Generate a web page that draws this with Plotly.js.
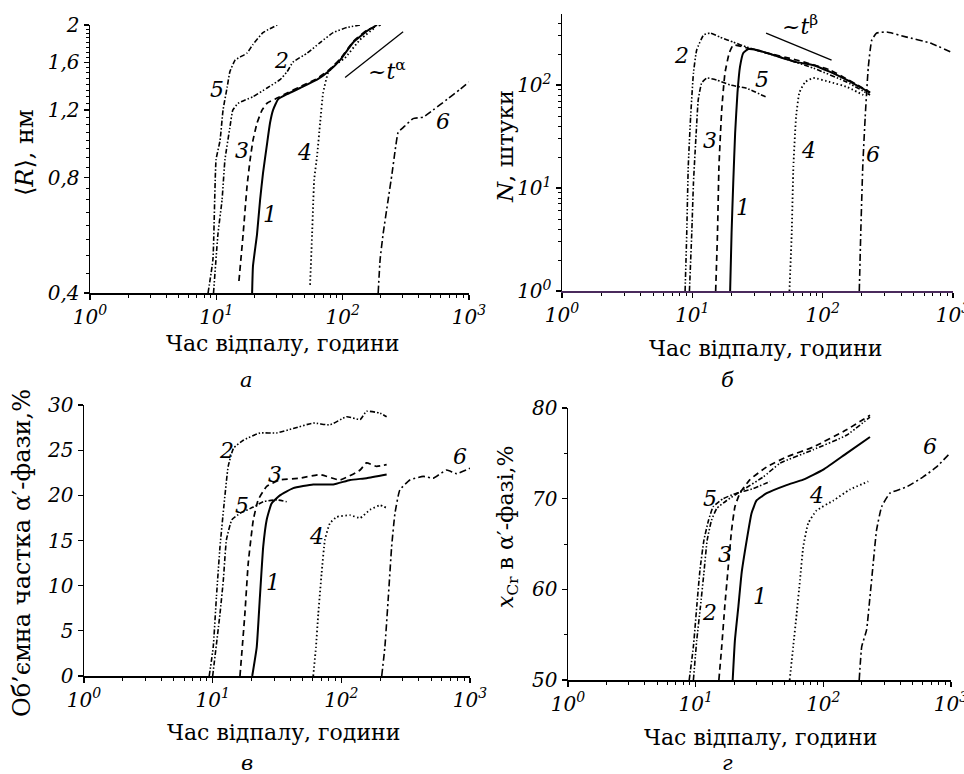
<!DOCTYPE html>
<html><head><meta charset="utf-8">
<script src="https://cdn.plot.ly/plotly-3.0.1.min.js"></script>
<style>html,body{margin:0;padding:0;background:#fff}</style>
</head><body><div id="chart" style="width:964px;height:774px"></div>
<script>
// ---------- data: panel а  (<R>, nm) ----------
const tA1 = [19.2,19.5,21.0,22.2,23.4,25.2,26.6,28.1,30.8,36.3,46,62.7,76.6,95.3,121,156,187];
const rA1 = [0.40,0.47,0.57,0.70,0.82,0.98,1.11,1.20,1.28,1.32,1.37,1.44,1.51,1.62,1.80,1.93,2.0];
const tA2 = [9.5,10.3,11.1,11.7,12.8,13.5,14.9,19.5,25.2,31.9,36.3,40.4,52.5,66.3,84,108,137];
const rA2 = [0.40,0.57,0.70,0.89,1.08,1.20,1.25,1.30,1.37,1.44,1.51,1.60,1.69,1.80,1.91,1.97,2.0];
const tA3 = [15.1,16.3,17.5,18.5,19.5,21.0,23.0,25.2,30.3,36.3,46,62.7,76.6,95.3,121,156,200];
const rA3 = [0.43,0.57,0.76,0.89,1.00,1.11,1.20,1.25,1.29,1.33,1.38,1.45,1.52,1.63,1.81,1.94,2.0];
const tA4 = [55.2,57.3,58.3,59.5,62.7,66.3,70,76.6,84,104,137,180];
const rA4 = [0.42,0.57,0.67,0.79,0.91,1.11,1.33,1.50,1.56,1.64,1.83,1.97];
const tA5 = [8.6,9.4,9.95,10.7,11.3,12.2,12.8,14.1,17.5,19.5,23.4,30.3];
const rA5 = [0.40,0.49,0.89,1.00,1.20,1.38,1.51,1.62,1.69,1.78,1.91,2.0];
const tA6 = [191,198,209,229,246,260,275,301,361,433,520,671,851,1000];
const rA6 = [0.40,0.49,0.57,0.70,0.82,0.94,1.05,1.08,1.14,1.15,1.20,1.28,1.36,1.42];
const alphaT = [104.5,301];
const alphaR = [1.46,1.92];

// ---------- data: panel б  (N) ----------
const tB1 = [19.5,20.0,20.6,21.3,22.2,23.2,24.6,26.9,31.2,41.8,63,85,114,153,231];
const nB1 = [1,3.66,11.2,34,84,150,205,224,219,196,167,156,134,112,84];
const tB2 = [8.8,9.06,9.3,9.7,10.2,10.8,12.2,13.7,16.3,20.6,26.1,47,85,153,231];
const nB2 = [1,3.66,16,49,131,219,306,320,292,261,234,187,146,107,80];
const tB3 = [15.1,15.6,16.0,16.8,17.8,19.2,20.6,24.6,35,63,114,231];
const nB3 = [1,3.66,16,57,131,205,245,234,209,175,140,85];
const tB4 = [55.6,57.9,59.6,62.5,66.2,73.3,85,114,153,205];
const nB4 = [1,3.66,16,49,84,107,117,107,96,80];
const tB5 = [9.5,9.9,10.2,10.7,11.1,11.8,12.9,15.4,19.5,26.1,37.2];
const nB5 = [1,3.66,11.2,34,72,105,117,112,100,93,76];
const tB6 = [191,196,203,212,224,238,260,311,442,667,1000];
const nB6 = [1,3.66,16,49,150,273,320,327,292,256,205];
const betaT = [36.8,117];
const betaN = [320,175];

// ---------- data: panel в  (volume fraction, %) ----------
const tC1 = [20.3,22.0,23.3,24.7,26.3,28.7,33.3,42.3,60.5,86.5,117,157,225];
const vC1 = [0,3.2,8.8,14.3,17.3,19.1,20.0,20.8,21.2,21.2,21.7,21.9,22.3];
const tC2 = [9.4,10.1,10.7,11.4,12.2,13.2,14.5,17.3,23.3,31.4,42.3,60.5,81.5,110,140,157,200,225];
const vC2 = [0,3.2,8.8,14.3,18.7,23.2,25.2,26.1,26.9,26.9,27.4,28.0,27.8,28.7,28.4,29.3,29.1,28.7];
const tC3 = [16.3,17.8,18.9,20.7,22.6,26.3,33.3,47.7,68.2,97.5,140,157,188,225];
const vC3 = [0,6.9,12.5,17.3,19.5,21.0,21.7,21.9,22.3,21.7,22.8,23.6,23.2,23.4];
const tC4 = [60.5,63.5,66.2,70.3,74.6,81.5,91.9,117,140,167,200,225];
const vC4 = [0,3.2,6.9,11.4,15.1,16.9,17.6,17.8,17.5,18.4,18.9,18.6];
const tC5 = [10.0,11.4,12.1,12.8,14.1,16.3,20.7,24.7,31.4,37.6];
const vC5 = [0,6.9,10.6,15.1,17.3,18.0,18.7,19.3,19.5,19.3];
const tC6 = [206,218,232,246,261,285,341,433,518,658,787,1000];
const vC6 = [0,3.2,8.8,14.3,18.0,20.6,21.7,22.1,21.9,22.8,22.4,23.0];

// ---------- data: panel г  (x_Cr in α'-phase, %) ----------
const tD1 = [19.5,20.3,21.6,22.9,25.1,27.4,30.0,36.0,51.5,69.6,100,152,232];
const xD1 = [50,54.4,58.1,61.8,65.4,68.4,69.8,70.6,71.5,72.1,73.2,75.0,76.8];
const tD2 = [9.6,10.2,10.9,11.6,12.3,13.3,14.6,17.5,23.6,33.9,45.7,83.4,152,232];
const xD2 = [50,54.4,58.1,61.8,65.4,67.6,68.9,69.8,71.0,72.4,73.9,75.4,77.0,79.0];
const tD3 = [15.2,16.0,16.9,18.0,19.1,20.3,22.2,26.6,36.0,51.5,83.4,152,232];
const xD3 = [50,53.7,58.1,62.5,66.5,69.1,70.6,72.1,73.5,74.6,75.7,77.6,79.2];
const tD4 = [54.5,58.1,61.8,65.6,69.6,76.2,88.6,120,161,225];
const xD4 = [50,53.7,57.3,61.0,64.7,67.3,68.7,69.8,71.0,71.9];
const tD5 = [8.9,9.6,10.2,10.8,11.6,12.6,13.7,16.4,20.9,28.2,38.2];
const xD5 = [50,53.7,58.1,62.1,65.4,67.6,69.1,70.0,70.6,71.1,71.9];
const tD6 = [191,200,218,232,246,261,286,332,449,605,771,980];
const xD6 = [50,53.7,55.5,59.2,62.9,66.5,69.1,70.6,71.3,72.4,73.5,75.0];

// ---------- tick labels ----------
const xTickVals = [1,10,100,1000];
const xTickText = ['10<sup>0</sup>','10<sup>1</sup>','10<sup>2</sup>','10<sup>3</sup>'];
const aTickVals = [0.4,0.8,1.2,1.6,2];
const aTickText = ['0,4','0,8','1,2','1,6','2'];
const bTickVals = [1,10,100];
const bTickText = ['10<sup>0</sup>','10<sup>1</sup>','10<sup>2</sup>'];
const cTickVals = [0,5,10,15,20,25,30];
const dTickVals = [50,60,70,80];

// curve labels: [panel, label, t, value]
const curveLabels = [
  ['a','5',10.1,1.36],['a','2',33,1.62],['a','3',16,0.94],['a','4',50,0.93],['a','1',26.6,0.64],['a','6',624,1.12],
  ['b','2',8.3,194],['b','5',34,112],['b','3',13.7,29],['b','1',24.6,6.5],['b','4',78,23],['b','6',245,21],
  ['c','2',12.8,25.0],['c','3',30.5,22.3],['c','5',16.8,18.9],['c','4',64.3,15.4],['c','1',29.6,10.3],['c','6',834,24.3],
  ['d','5',12.9,70.0],['d','3',17,63.8],['d','2',12.9,57.4],['d','1',31.9,59.2],['d','4',88.6,70.4],['d','6',684,75.7]
];

// ---------- styling ----------
const FONT = 'DejaVu Serif, Liberation Serif, serif';
const dashes = {1:'solid', 2:'5px,2px,1.5px,2px,1.5px,2px', 3:'6px,4px', 4:'1.5px,2.5px', 5:'5px,2px,1.5px,2px', 6:'7px,3px,2px,3px'};
const widths = {1:2, 2:1.6, 3:1.7, 4:1.8, 5:1.6, 6:1.6};
const axMap = {a:['x','y'], b:['x2','y2'], c:['x3','y3'], d:['x4','y4']};

const traces = [];
function addCurve(panel, k, t, v){
  traces.push({x:t, y:v, xaxis:axMap[panel][0], yaxis:axMap[panel][1], mode:'lines',
    line:{color:'#000', width:widths[k], dash:dashes[k], shape:'spline', smoothing:0.4},
    showlegend:false, hoverinfo:'skip'});
}
[[tA1,rA1],[tA2,rA2],[tA3,rA3],[tA4,rA4],[tA5,rA5],[tA6,rA6]].forEach((d,i)=>addCurve('a',i+1,d[0],d[1]));
[[tB1,nB1],[tB2,nB2],[tB3,nB3],[tB4,nB4],[tB5,nB5],[tB6,nB6]].forEach((d,i)=>addCurve('b',i+1,d[0],d[1]));
[[tC1,vC1],[tC2,vC2],[tC3,vC3],[tC4,vC4],[tC5,vC5],[tC6,vC6]].forEach((d,i)=>addCurve('c',i+1,d[0],d[1]));
[[tD1,xD1],[tD2,xD2],[tD3,xD3],[tD4,xD4],[tD5,xD5],[tD6,xD6]].forEach((d,i)=>addCurve('d',i+1,d[0],d[1]));
traces.push({x:alphaT, y:alphaR, xaxis:'x', yaxis:'y', mode:'lines', line:{color:'#000',width:1.3}, showlegend:false, hoverinfo:'skip'});
traces.push({x:betaT, y:betaN, xaxis:'x2', yaxis:'y2', mode:'lines', line:{color:'#000',width:1.3}, showlegend:false, hoverinfo:'skip'});

const minorLog = [];
[1,10,100].forEach(d=>{for(let m=2;m<=9;m++) minorLog.push(m*d);});
const minorA = [];
for(let v=0.45; v<2; v+=0.05){ const r=Math.round(v*100)/100; if(aTickVals.indexOf(r)<0) minorA.push(r); }
const minorB = [];
[1,10,100].forEach(d=>{for(let m=2;m<=9;m++) if(m*d<500) minorB.push(m*d);});

const tickfont = {family:FONT, size:20, color:'#000'};
function it(arr){ return arr.map(s=>'<i>'+s+'</i>'); }
function baseAx(extra){
  return Object.assign({showline:true, linecolor:'#000', linewidth:1.5, showgrid:false, zeroline:false,
    ticks:'outside', ticklen:5, tickwidth:1.2, tickcolor:'#000', tickfont:tickfont, fixedrange:true,
    ticklabeloverflow:'allow'}, extra);
}
function xAx(domain, anchor){
  return baseAx({type:'log', domain:domain, anchor:anchor, range:[0,3], tickmode:'array',
    tickvals:xTickVals, ticktext:it(xTickText),
    minor:{tickmode:'array', tickvals:minorLog, ticks:'outside', ticklen:3, tickcolor:'#000', tickwidth:1, showgrid:false}});
}

const layout = {
  width:964, height:774, margin:{l:0,r:0,t:0,b:0}, paper_bgcolor:'#fff', plot_bgcolor:'rgba(0,0,0,0)',
  showlegend:false, hovermode:false,
  xaxis: xAx([90/964, 469/964], 'y'),
  yaxis: baseAx({type:'log', domain:[1-293/774, 1-25/774], anchor:'x', range:[Math.log10(0.4), Math.log10(2)],
    tickmode:'array', tickvals:aTickVals, ticktext:it(aTickText),
    minor:{tickmode:'array', tickvals:minorA, ticks:'outside', ticklen:3, tickcolor:'#000', tickwidth:1, showgrid:false}}),
  xaxis2: Object.assign(xAx([562/964, 953/964], 'y2'), {linecolor:'#4a2a5c'}),
  yaxis2: baseAx({type:'log', domain:[1-291/774, 1-14/774], anchor:'x2', range:[0, 2.69],
    tickmode:'array', tickvals:bTickVals, ticktext:it(bTickText),
    minor:{tickmode:'array', tickvals:minorB, ticks:'outside', ticklen:3, tickcolor:'#000', tickwidth:1, showgrid:false}}),
  xaxis3: xAx([84/964, 470/964], 'y3'),
  yaxis3: baseAx({domain:[1-676/774, 1-405/774], anchor:'x3', range:[0,30], tickmode:'array',
    tickvals:cTickVals, ticktext:it(cTickVals.map(String))}),
  xaxis4: xAx([568/964, 951/964], 'y4'),
  yaxis4: baseAx({domain:[1-680/774, 1-408/774], anchor:'x4', range:[50,80], tickmode:'array',
    tickvals:dTickVals, ticktext:it(dTickVals.map(String)),
    minor:{tickmode:'array', tickvals:[55,65,75], ticks:'outside', ticklen:3, tickcolor:'#000', tickwidth:1, showgrid:false}}),
  annotations: []
};

function tf(size){ return {family:FONT, size:size, color:'#000'}; }
function paperText(text, px, py, angle, font){
  layout.annotations.push({text:text, x:px/964, y:1-py/774, xref:'paper', yref:'paper', showarrow:false,
    xanchor:'center', yanchor:'middle', textangle:angle||0, font:font});
}
const xTitle = 'Час відпалу, години';
paperText(xTitle, 282, 343, 0, tf(22));
paperText(xTitle, 765, 348, 0, tf(22));
paperText(xTitle, 283, 732, 0, tf(22));
paperText(xTitle, 760, 737, 0, tf(22));
paperText('<i>а</i>', 247, 380, 0, tf(21));
paperText('<i>б</i>', 727, 380, 0, tf(21));
paperText('<i>в</i>', 247, 763, 0, tf(21));
paperText('<i>г</i>', 727, 763, 0, tf(21));
paperText('⟨<i>R</i>⟩, нм', 25, 153, -90, tf(24));
paperText('<i>N</i>, штуки', 505, 147, -90, tf(23));
paperText('Об’ємна частка α′-фази,%', 22, 553, -90, tf(24));
paperText('<i>x</i><sub>Cr</sub> в α′-фазі,%', 507, 527, -90, tf(22));

const labelFont = tf(22);
curveLabels.forEach(([p,s,t,v])=>{
  const logY = (p==='a'||p==='b');
  layout.annotations.push({text:'<i>'+s+'</i>', x:Math.log10(t), y:logY?Math.log10(v):v,
    xref:axMap[p][0], yref:axMap[p][1], showarrow:false, font:labelFont});
});
layout.annotations.push({text:'~<i>t</i><sup>α</sup>', x:Math.log10(225), y:Math.log10(1.53), xref:'x', yref:'y', showarrow:false, font:labelFont});
layout.annotations.push({text:'~<i>t</i><sup>β</sup>', x:Math.log10(67), y:Math.log10(381), xref:'x2', yref:'y2', showarrow:false, font:labelFont});

Plotly.newPlot('chart', traces, layout, {staticPlot:true, displayModeBar:false});
</script>
</body></html>
